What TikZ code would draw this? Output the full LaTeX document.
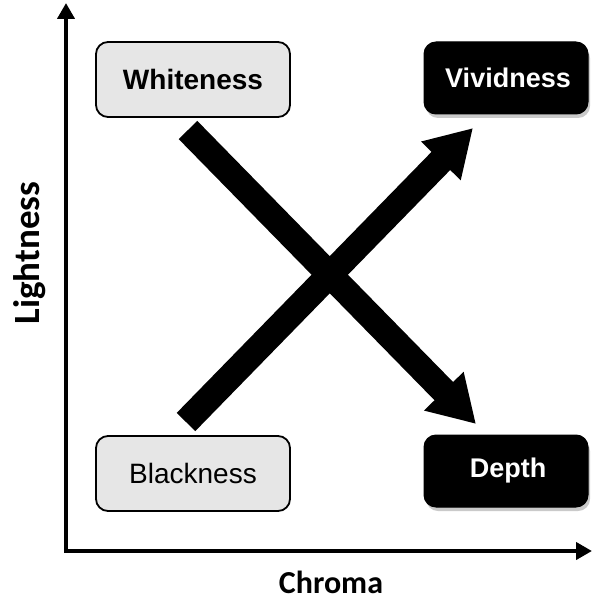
\documentclass[tikz,border=0pt]{standalone}
\usepackage{fontspec}
\setmainfont{Liberation Sans}
\newfontfamily\labelfont{Carlito}
\usetikzlibrary{arrows.meta,shadows}
\definecolor{boxgray}{HTML}{E6E6E6}
\tikzset{
  lightbox/.style={draw=black, line width=1.8pt, fill=boxgray, rounded corners=12pt,
    minimum width=194pt, minimum height=75pt, inner sep=0pt, font=\fontsize{28}{32}\selectfont},
  darkbox/.style={draw=black, line width=1pt, fill=black, text=white, rounded corners=12pt,
    minimum width=164pt, minimum height=72pt, inner sep=0pt, font=\bfseries\fontsize{27}{32}\selectfont,
    drop shadow={shadow xshift=2pt, shadow yshift=-4pt, opacity=0.35, fill=black!60}},
  bigarrow/.style={line width=26pt, -{Triangle[length=46pt,width=52pt]}},
  axisline/.style={line width=4pt, line join=miter, {Triangle[length=16pt,width=17pt]}-{Triangle[length=16pt,width=17pt]}},
  axislabel/.style={font=\labelfont\bfseries\fontsize{32}{38}\selectfont}
}
\begin{document}
\begin{tikzpicture}[x=1pt,y=-1pt]
\useasboundingbox (0,0) rectangle (592,604);
\node[lightbox, font=\bfseries\fontsize{28}{32}\selectfont] (white) at (193,79.5) {Whiteness};
\node[lightbox] (black) at (193,473.5) {Blackness};
\node[darkbox] (vivid) at (506,78) {\hspace*{4pt}Vividness};
\node[darkbox] (depth) at (506,471) {\hspace*{4pt}Depth};
% axes
\coordinate (ytip) at (66,3);
\coordinate (origin) at (66,551);
\coordinate (xtip) at (592,551);
\draw[axisline] (ytip) -- (origin) -- (xtip);
\node[axislabel, rotate=90] (lightness) at (30,253) {\fontsize{37}{42}\selectfont Lightness};
\node[axislabel] (chroma) at (331,582) {Chroma};
% big arrows
\coordinate (w0) at (188,130);
\coordinate (w1) at (476,424);
\coordinate (b0) at (186,422);
\coordinate (b1) at (473,128);
\draw[bigarrow] (w0) -- (w1);
\draw[bigarrow] (b0) -- (b1);
\end{tikzpicture}
\end{document}
